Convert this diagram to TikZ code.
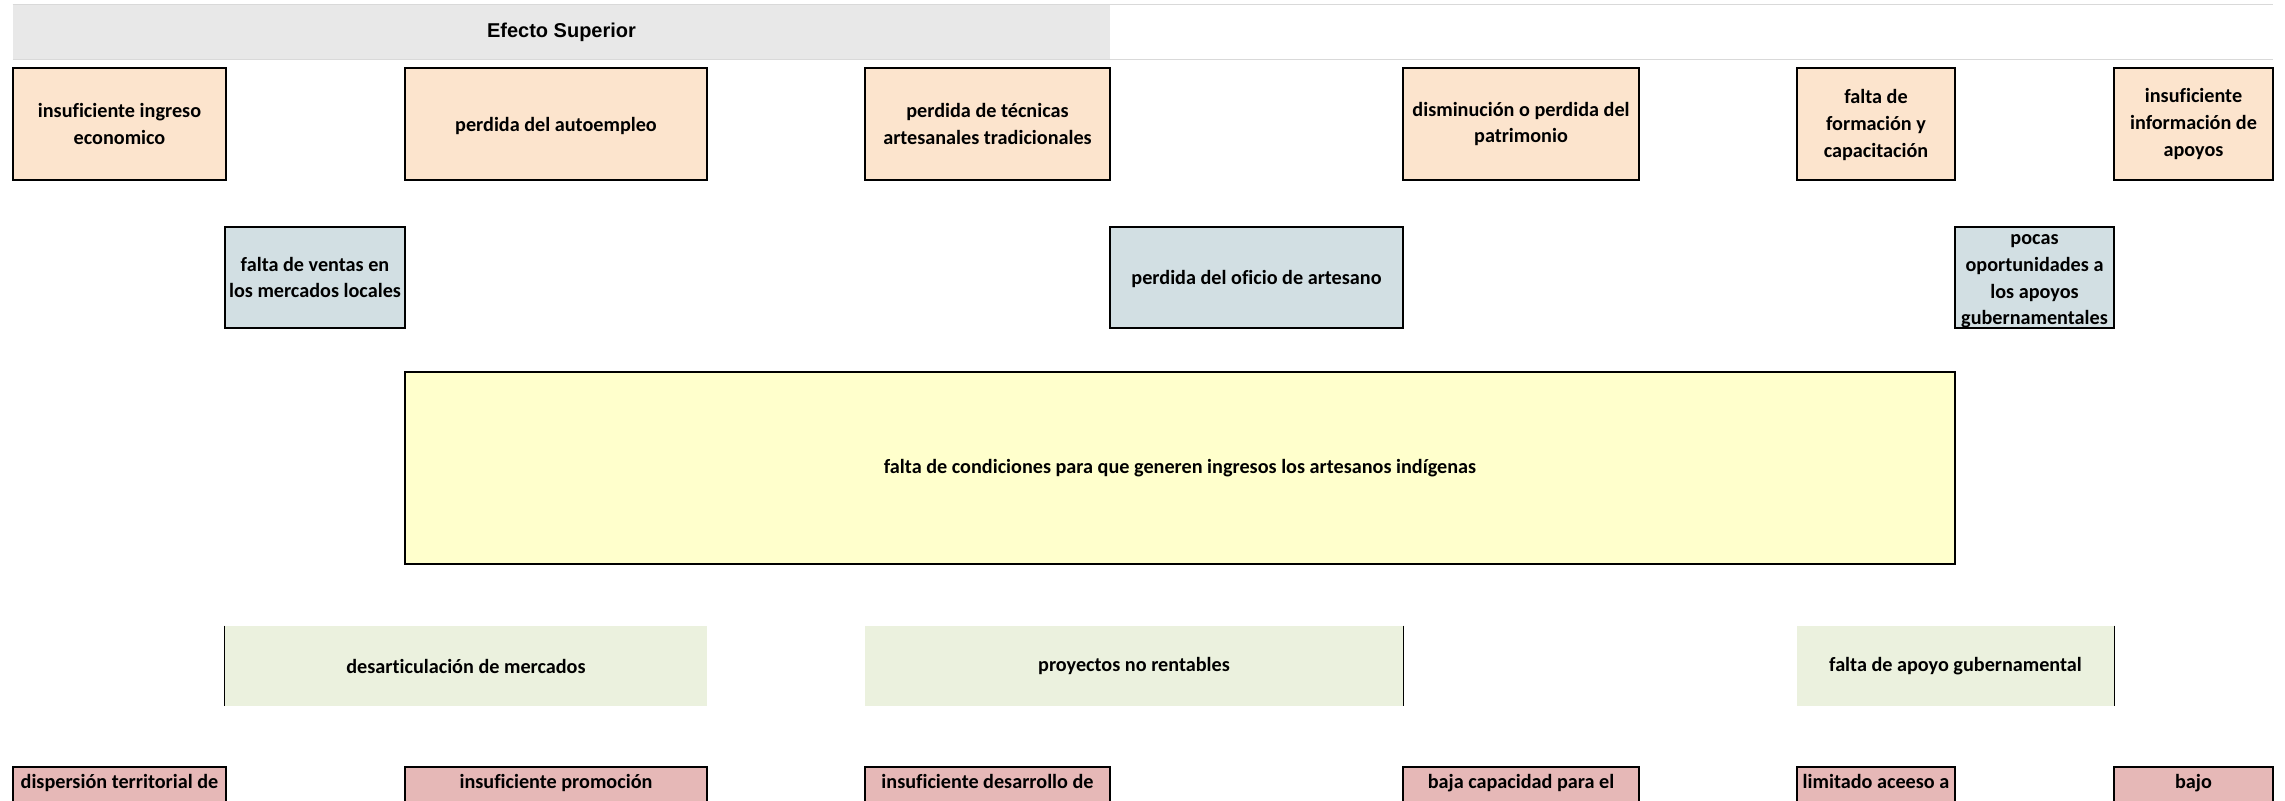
\documentclass[tikz,border=0pt]{standalone}
\usepackage{fontspec}
\setmainfont{Carlito}[Ligatures=NoCommon]
\newfontfamily\arialfont{Liberation Sans}
\definecolor{hdrgray}{HTML}{E8E8E8}
\definecolor{hdrline}{HTML}{D9D9D9}
\definecolor{efecto}{HTML}{FCE4CD}
\definecolor{causa}{HTML}{D2DFE3}
\definecolor{problema}{HTML}{FFFFCC}
\definecolor{medio}{HTML}{EBF1DE}
\definecolor{raiz}{HTML}{E6B8B7}
\begin{document}
\begin{tikzpicture}[x=0.5pt,y=-0.5pt,
 cell/.style={rectangle,inner sep=0pt,align=center,font=\fontsize{10.1}{13.3}\selectfont\bfseries},
 hdrcell/.style={rectangle,inner sep=0pt,fill=hdrgray,minimum width=548.5pt,minimum height=27.15pt,font=\arialfont\bfseries\fontsize{10}{12}\selectfont},
 hline/.style={draw=hdrline,line width=0.65pt},
 efectobox/.style={cell,draw,line width=0.9pt,fill=efecto,minimum height=56.3pt},
 causabox/.style={cell,draw,line width=0.9pt,fill=causa,minimum height=50.8pt},
 problemabox/.style={cell,draw,line width=0.9pt,fill=problema,minimum width=775pt,minimum height=96pt},
 mediobox/.style={cell,fill=medio,minimum height=40pt},
 raizbox/.style={cell,draw,line width=0.9pt,fill=raiz,minimum height=20pt,text height=4.3pt,text depth=3pt},
 sideline/.style={line width=0.55pt}]
\useasboundingbox (0,0) rectangle (2285,801);
\clip (0,0) rectangle (2285,801);
\node (hdr) at (561.5,31.85) [hdrcell] {Efecto Superior};
\draw [hline] (hdr.north west) -- ++(2260,0);
\draw [hline] (hdr.south west) -- ++(2260,0);
\node (e1) at (119.5,124) [efectobox,minimum width=106.2pt] {insuficiente ingreso\\economico};
\node (e2) at (556,124) [efectobox,minimum width=151pt] {\rule{0pt}{9pt}perdida del autoempleo};
\node (e3) at (987.5,124) [efectobox,minimum width=122.5pt] {perdida de técnicas\\artesanales tradicionales};
\node (e4) at (1521,124) [efectobox,minimum width=118pt] {disminución o perdida del\\patrimonio};
\node (e5) at (1876,124) [efectobox,minimum width=79pt] {\rule{0pt}{8pt}falta de\\formación y\\capacitación};
\node (e6) at (2193.5,124) [efectobox,minimum width=79.5pt] {insuficiente\\información de\\apoyos};
\node (c1) at (315,277.5) [causabox,minimum width=90pt] {falta de ventas en\\los mercados locales};
\node (c2) at (1256.5,277.5) [causabox,minimum width=146.5pt] {\rule{0pt}{9pt}perdida del oficio de artesano};
\node (c3) at (2034.5,277.5) [causabox,minimum width=79.5pt] {\rule{0pt}{9pt}pocas\\oportunidades a\\los apoyos\\gubernamentales};
\node (prob) at (1180,468) [problemabox] {falta de condiciones para que generen ingresos los artesanos indígenas};
\node (m1) at (466,666) [mediobox,minimum width=241pt] {desarticulación de mercados};
\node (m2) at (1134,666) [mediobox,minimum width=269pt] {proyectos no rentables};
\node (m3) at (1955.5,666) [mediobox,minimum width=158.5pt] {falta de apoyo gubernamental};
\draw [sideline] (m1.north west) -- (m1.south west);
\draw [sideline] (m2.north east) -- (m2.south east);
\draw [sideline] (m3.north east) -- (m3.south east);
\node (r1) at (119.5,786.7) [raizbox,minimum width=106.2pt] {dispersión territorial de};
\node (r2) at (556,786.7) [raizbox,minimum width=151pt] {insuficiente promoción};
\node (r3) at (987.5,786.7) [raizbox,minimum width=122.5pt] {insuficiente desarrollo de};
\node (r4) at (1521,786.7) [raizbox,minimum width=118pt] {baja capacidad para el};
\node (r5) at (1876,786.7) [raizbox,minimum width=79pt] {limitado aceeso a};
\node (r6) at (2193.5,786.7) [raizbox,minimum width=79.5pt] {bajo};
\end{tikzpicture}
\end{document}
